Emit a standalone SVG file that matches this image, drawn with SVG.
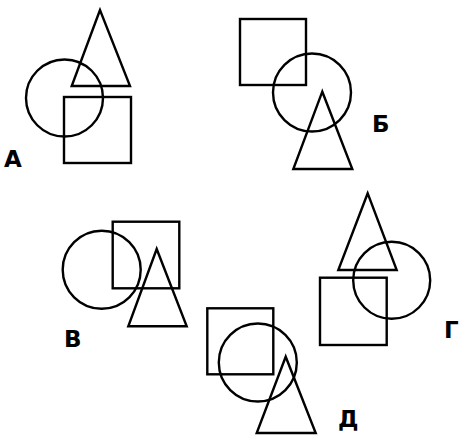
<svg xmlns="http://www.w3.org/2000/svg" width="460" height="435" viewBox="0 0 460 435">
<style>
.s{fill:none;stroke:#000;stroke-width:2.4;stroke-linejoin:miter}
.l{font-family:"DejaVu Sans","Liberation Sans",sans-serif;font-weight:bold;font-size:23px;fill:#000}
</style>
<rect width="460" height="435" fill="#fff"/>
<g id="figA">
<polygon class="s" points="100,10 71.7,86 130,86"/>
<circle class="s" cx="64.5" cy="98" r="38.5"/>
<rect class="s" x="64" y="97" width="67" height="66"/>
<text class="l" x="4" y="167">А</text>
</g>
<g id="figB">
<rect class="s" x="240" y="19" width="66" height="66"/>
<circle class="s" cx="312" cy="92.5" r="39"/>
<polygon class="s" points="322.3,91.7 293.3,169 352.3,169"/>
<text class="l" x="372" y="132">Б</text>
</g>
<g id="figV">
<rect class="s" x="112.7" y="221.7" width="66.6" height="66.6"/>
<circle class="s" cx="101.7" cy="269.7" r="39"/>
<polygon class="s" points="156.7,249 128.3,326.3 186.7,326.3"/>
<text class="l" x="64" y="347">В</text>
</g>
<g id="figG">
<polygon class="s" points="367.7,193.3 338.3,270 396.7,270"/>
<circle class="s" cx="391.7" cy="280.3" r="38.5"/>
<rect class="s" x="320" y="277.7" width="66.7" height="67.3"/>
<text class="l" x="444" y="338">Г</text>
</g>
<g id="figD">
<rect class="s" x="207.3" y="308.3" width="66" height="66"/>
<circle class="s" cx="257.8" cy="362.5" r="39"/>
<polygon class="s" points="285.7,356.7 256.7,433 315.7,433"/>
<text class="l" x="338" y="427">Д</text>
</g>
</svg>
